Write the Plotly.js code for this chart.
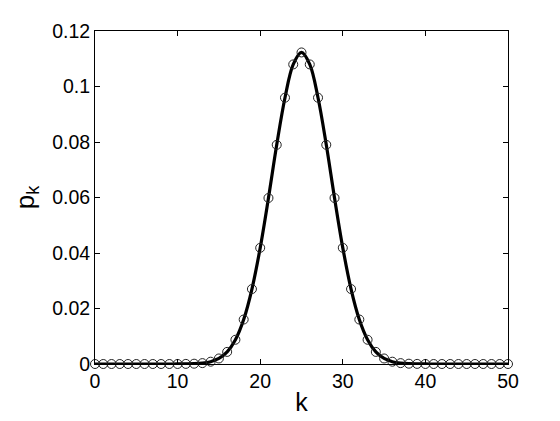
<!DOCTYPE html>
<html>
<head>
<meta charset="utf-8">
<script src="https://cdn.plot.ly/plotly-3.0.1.min.js"></script>
<style>html,body{margin:0;padding:0;background:#fff;}#chart{width:560px;height:421px;}</style>
</head>
<body>
<div id="chart"></div>
<script>
const k = [0,1,2,3,4,5,6,7,8,9,10,11,12,13,14,15,16,17,18,19,20,21,22,23,24,25,26,27,28,29,30,31,32,33,34,35,36,37,38,39,40,41,42,43,44,45,46,47,48,49,50];
const pk = [0,0,0,0,0,0,0,0,0,0,0.00001,0.00004,0.00011,0.00032,0.00083,0.00199,0.00436,0.00874,0.01603,0.02701,0.04186,0.05982,0.07898,0.09596,0.10796,0.11227,0.10796,0.09596,0.07898,0.05982,0.04186,0.02701,0.01603,0.00874,0.00436,0.00199,0.00083,0.00032,0.00011,0.00004,0.00001,0,0,0,0,0,0,0,0,0,0];
const yTicks = [0,0.02,0.04,0.06,0.08,0.1,0.12];
const yTickText = ['0','0.02','0.04','0.06','0.08','0.1','0.12'];
const xTicks = [0,10,20,30,40,50];

const font = 'Liberation Sans, Arial, Helvetica, sans-serif';
const data = [
  {x:k, y:pk, mode:'lines', line:{color:'#000', width:3.2, shape:'spline', smoothing:1}, hoverinfo:'none', cliponaxis:false},
  {x:k, y:pk, mode:'markers', marker:{symbol:'circle-open', size:9, color:'#222', line:{width:1, color:'#222'}}, cliponaxis:false}
];
const layout = {
  width:560, height:421,
  margin:{l:95, r:52, t:31, b:57},
  showlegend:false,
  paper_bgcolor:'#fff', plot_bgcolor:'#fff',
  font:{family:font, color:'#000', size:19},
  xaxis:{range:[0,50], tickvals:xTicks, ticks:'inside', ticklen:5, tickcolor:'#000', mirror:'ticks', showline:true, linecolor:'#000', linewidth:1, showgrid:false, zeroline:false,
    title:{text:'k', font:{size:25}, standoff:2}, tickfont:{size:19.5}},
  yaxis:{range:[0,0.12], tickvals:yTicks, ticktext:yTickText, ticks:'inside', ticklen:5, tickcolor:'#000', mirror:'ticks', showline:true, linecolor:'#000', linewidth:1, showgrid:false, zeroline:false,
    title:{text:'p<sub>k</sub>', font:{size:26}, standoff:10}, tickfont:{size:19.5}}
};
Plotly.newPlot('chart', data, layout, {staticPlot:true, displayModeBar:false});
</script>
</body>
</html>
